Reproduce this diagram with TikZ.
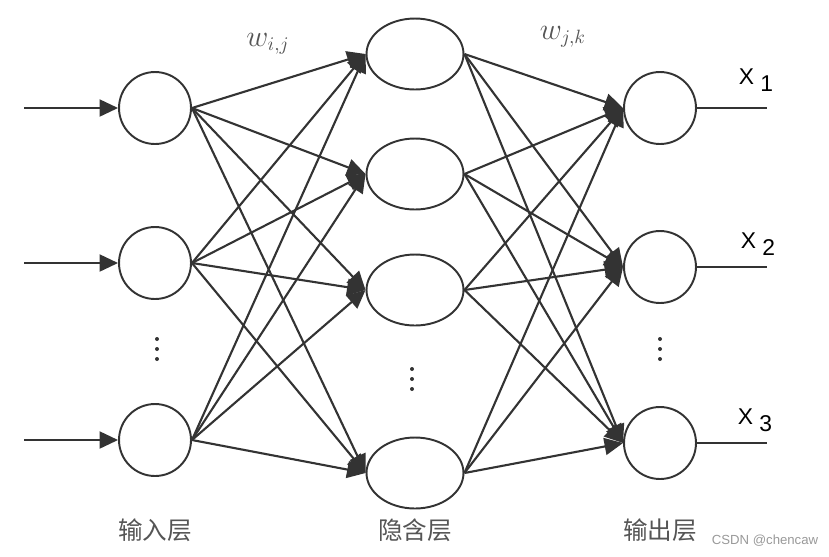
\documentclass[tikz,border=0pt]{standalone}
\usepackage{fontspec}
\newfontfamily\cjkfont{Noto Sans CJK SC}
\newfontfamily\xfont{Liberation Sans}
\usetikzlibrary{shapes.geometric,arrows.meta}
\definecolor{linegray}{HTML}{333333}
\definecolor{textgray}{HTML}{555555}
\begin{document}
\begin{tikzpicture}[x=0.02cm,y=-0.02cm]
\tikzstyle{neuron}=[draw=linegray,circle,minimum size=1.44cm,inner sep=0pt,line width=1.1pt]
\tikzstyle{hidden}=[draw=linegray,ellipse,minimum width=1.94cm,minimum height=1.42cm,inner sep=0pt,line width=1.1pt]
\tikzstyle{link}=[draw=linegray,line width=1.2pt,-{Triangle[length=3.7mm,width=3.4mm]}]
\tikzstyle{outlabel}=[font=\xfont\fontsize{13}{15}\selectfont]
\tikzstyle{layerlabel}=[text=textgray,font=\cjkfont\fontsize{14}{16}\selectfont]
\tikzstyle{dot}=[fill=linegray]
\useasboundingbox (0,0) rectangle (829,556);
% input layer
\node[neuron] (in1) at (155,108) {};
\node[neuron] (in2) at (155,263) {};
\node[neuron] (in3) at (155,440) {};
\fill[dot] (157,339) circle (2) (157,349) circle (2) (157,359) circle (2);
\coordinate (src1) at (24,108);
\coordinate (src2) at (24,263);
\coordinate (src3) at (24,440);
% hidden layer
\node[hidden] (h1) at (415,54) {};
\node[hidden] (h2) at (415,174) {};
\node[hidden] (h3) at (415,290) {};
\node[hidden] (h4) at (415,473) {};
\fill[dot] (412,369) circle (2) (412,379) circle (2) (412,389) circle (2);
% output layer
\node[neuron] (out1) at (660,108) {};
\node[neuron] (out2) at (660,267) {};
\node[neuron] (out3) at (660,443) {};
\fill[dot] (660,339) circle (2) (660,349) circle (2) (660,359) circle (2);
\coordinate (dst1) at (767,108);
\coordinate (dst2) at (767,267);
\coordinate (dst3) at (767,443);
% inputs
\draw[link] (src1) -- (in1.west);
\draw[link] (src2) -- (in2.west);
\draw[link] (src3) -- (in3.west);
% input -> hidden
\draw[link] (in1.east) -- (h1.west);
\draw[link] (in1.east) -- (h2.west);
\draw[link] (in1.east) -- (h3.west);
\draw[link] (in1.east) -- (h4.west);
\draw[link] (in2.east) -- (h1.west);
\draw[link] (in2.east) -- (h2.west);
\draw[link] (in2.east) -- (h3.west);
\draw[link] (in2.east) -- (h4.west);
\draw[link] (in3.east) -- (h1.west);
\draw[link] (in3.east) -- (h2.west);
\draw[link] (in3.east) -- (h3.west);
\draw[link] (in3.east) -- (h4.west);
% hidden -> output
\draw[link] (h1.east) -- (out1.west);
\draw[link] (h1.east) -- (out2.west);
\draw[link] (h1.east) -- (out3.west);
\draw[link] (h2.east) -- (out1.west);
\draw[link] (h2.east) -- (out2.west);
\draw[link] (h2.east) -- (out3.west);
\draw[link] (h3.east) -- (out1.west);
\draw[link] (h3.east) -- (out2.west);
\draw[link] (h3.east) -- (out3.west);
\draw[link] (h4.east) -- (out1.west);
\draw[link] (h4.east) -- (out2.west);
\draw[link] (h4.east) -- (out3.west);
% outputs
\draw[draw=linegray,line width=1.2pt] (out1.east) -- (dst1);
\draw[draw=linegray,line width=1.2pt] (out2.east) -- (dst2);
\draw[draw=linegray,line width=1.2pt] (out3.east) -- (dst3);
% labels
\node[text=textgray] (wij) at (268,44) {\fontsize{16}{18}\selectfont$w_{i,j}$};
\node[text=textgray] (wjk) at (563,37) {\fontsize{16}{18}\selectfont$w_{j,k}$};
\node[outlabel] (x1) at (756,80) {X \raisebox{-0.55ex}{1}};
\node[outlabel] (x2) at (758,244) {X \raisebox{-0.55ex}{2}};
\node[outlabel] (x3) at (755,420) {X \raisebox{-0.55ex}{3}};
\node[layerlabel] (inlabel) at (155,530) {输入层};
\node[layerlabel] (hlabel) at (415,530) {隐含层};
\node[layerlabel] (outlabel) at (660,530) {输出层};
\node[text=gray!80,font=\xfont\fontsize{7.5}{9}\selectfont] (mark) at (765,541) {CSDN @chencaw};
\end{tikzpicture}
\end{document}
